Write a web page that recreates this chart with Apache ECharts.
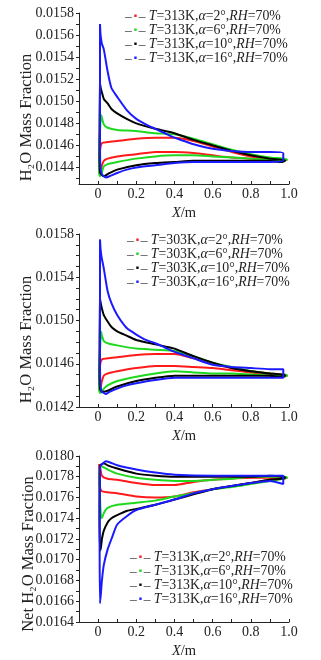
<!DOCTYPE html>
<html>
<head>
<meta charset="utf-8">
<style>
  html, body { margin: 0; padding: 0; background: #fff; }
  #main { width: 321px; height: 660px; }
</style>
<script src="https://cdn.jsdelivr.net/npm/echarts@6/dist/echarts.min.js"></script>
</head>
<body>
<div id="main"></div>
<script>
// legend texts
const names313 = ['T=313K,α=2°,RH=70%', 'T=313K,α=6°,RH=70%', 'T=313K,α=10°,RH=70%', 'T=313K,α=16°,RH=70%']
const names303 = ['T=303K,α=2°,RH=70%', 'T=303K,α=6°,RH=70%', 'T=303K,α=10°,RH=70%', 'T=303K,α=16°,RH=70%']
const colors = ['#ff1a1a', '#1fd91f', '#000000', '#1a1aff']

// tick labels
const xLabels = [0, 0.2, 0.4, 0.6, 0.8, 1.0]
const xTicks = [0, 0.1, 0.2, 0.3, 0.4, 0.5, 0.6, 0.7, 0.8, 0.9, 1.0]
const y1Labels = [0.0144, 0.0146, 0.0148, 0.0150, 0.0152, 0.0154, 0.0156, 0.0158]
const y2Labels = [0.0142, 0.0146, 0.0150, 0.0154, 0.0158]
const y3Labels = [0.0164, 0.0166, 0.0168, 0.0170, 0.0172, 0.0174, 0.0176, 0.0178, 0.0180]

// panel 1: T=313K, H2O mass fraction (closed loops, upper then lower surface)
const p1a2 = [[0.005, 0.01436], [0.01, 0.01455], [0.02, 0.01462], [0.05, 0.01463], [0.1, 0.01464], [0.2, 0.01466], [0.3, 0.01467], [0.4, 0.01467], [0.5, 0.01464], [0.6, 0.01459], [0.7, 0.01454], [0.8, 0.0145], [0.9, 0.01448], [0.97, 0.01447], [0.99, 0.01447],
  [0.97, 0.01446], [0.9, 0.01447], [0.8, 0.01448], [0.7, 0.01449], [0.6, 0.01451], [0.5, 0.01453], [0.4, 0.01454], [0.3, 0.01454], [0.2, 0.01452], [0.1, 0.0145], [0.05, 0.01448], [0.03, 0.01446], [0.02, 0.01442], [0.01, 0.01436], [0.005, 0.01436]]
const p1a6 = [[0.015, 0.01488], [0.02, 0.01485], [0.03, 0.01479], [0.05, 0.01476], [0.1, 0.01474], [0.2, 0.01473], [0.3, 0.01471], [0.4, 0.0147], [0.5, 0.01466], [0.6, 0.01461], [0.7, 0.01456], [0.8, 0.01452], [0.9, 0.01449], [0.97, 0.01448], [0.99, 0.01447],
  [0.97, 0.01446], [0.9, 0.01447], [0.8, 0.01448], [0.7, 0.01449], [0.6, 0.0145], [0.5, 0.01451], [0.4, 0.01451], [0.3, 0.0145], [0.2, 0.01448], [0.1, 0.01445], [0.05, 0.01443], [0.03, 0.01441], [0.02, 0.01436], [0.01, 0.01432], [0.005, 0.01435], [0.008, 0.01465], [0.012, 0.0148], [0.015, 0.01488]]
const p1a10 = [[0.01, 0.01516], [0.015, 0.01511], [0.02, 0.01508], [0.03, 0.01502], [0.05, 0.01498], [0.07, 0.01493], [0.1, 0.01489], [0.15, 0.01484], [0.2, 0.0148], [0.3, 0.01475], [0.35, 0.01473], [0.4, 0.01471], [0.5, 0.01465], [0.6, 0.0146], [0.7, 0.01455], [0.8, 0.01451], [0.9, 0.01448], [0.96, 0.01447], [0.98, 0.01446],
  [0.96, 0.01445], [0.9, 0.01446], [0.8, 0.01446], [0.6, 0.01446], [0.5, 0.01446], [0.4, 0.01445], [0.3, 0.01444], [0.2, 0.01442], [0.1, 0.01438], [0.05, 0.01434], [0.03, 0.01432], [0.02, 0.01433], [0.01, 0.01436], [0.007, 0.0146], [0.008, 0.0149], [0.01, 0.01516]]
const p1a16 = [[0.01, 0.0157], [0.013, 0.0156], [0.017, 0.01555], [0.02, 0.01552], [0.03, 0.01547], [0.05, 0.01527], [0.07, 0.01512], [0.1, 0.01504], [0.15, 0.01492], [0.2, 0.01484], [0.25, 0.01479], [0.3, 0.01475], [0.35, 0.01471], [0.4, 0.01467], [0.45, 0.01464], [0.5, 0.01461], [0.6, 0.01457], [0.7, 0.01455], [0.8, 0.01454], [0.9, 0.01454], [0.97, 0.01453],
  [0.97, 0.01446], [0.9, 0.01445], [0.7, 0.01445], [0.5, 0.01445], [0.4, 0.01444], [0.3, 0.01442], [0.2, 0.0144], [0.15, 0.01438], [0.1, 0.01435], [0.06, 0.01432], [0.04, 0.01431], [0.03, 0.01432], [0.02, 0.01434], [0.012, 0.0144], [0.01, 0.0147], [0.01, 0.0157]]

// panel 2: T=303K, H2O mass fraction
const p2a2 = [[0.005, 0.01436], [0.01, 0.01458], [0.02, 0.01464], [0.05, 0.01465], [0.1, 0.01466], [0.2, 0.01468], [0.3, 0.01469], [0.4, 0.01469], [0.5, 0.01465], [0.6, 0.0146], [0.7, 0.01456], [0.8, 0.01453], [0.9, 0.01451], [0.97, 0.0145], [0.99, 0.01449],
  [0.97, 0.01448], [0.9, 0.0145], [0.8, 0.01452], [0.7, 0.01454], [0.6, 0.01456], [0.5, 0.01457], [0.4, 0.01458], [0.3, 0.01458], [0.2, 0.01456], [0.1, 0.01453], [0.05, 0.01451], [0.03, 0.01449], [0.02, 0.01444], [0.01, 0.01436], [0.005, 0.01436]]
const p2a6 = [[0.015, 0.0149], [0.02, 0.01486], [0.03, 0.01481], [0.05, 0.01479], [0.1, 0.01477], [0.2, 0.01474], [0.3, 0.01473], [0.4, 0.01472], [0.5, 0.01467], [0.6, 0.01461], [0.7, 0.01457], [0.8, 0.01453], [0.9, 0.01451], [0.97, 0.0145], [0.99, 0.01449],
  [0.97, 0.01448], [0.9, 0.01449], [0.8, 0.0145], [0.7, 0.01451], [0.6, 0.01451], [0.5, 0.01452], [0.4, 0.01453], [0.3, 0.01451], [0.2, 0.01448], [0.1, 0.01444], [0.05, 0.0144], [0.03, 0.01437], [0.02, 0.01434], [0.01, 0.01433], [0.005, 0.01436], [0.008, 0.01465], [0.012, 0.0148], [0.015, 0.0149]]
const p2a10 = [[0.01, 0.0152], [0.015, 0.01515], [0.02, 0.01511], [0.03, 0.01505], [0.05, 0.01499], [0.07, 0.01494], [0.1, 0.0149], [0.15, 0.01486], [0.2, 0.01482], [0.3, 0.01478], [0.35, 0.01476], [0.4, 0.01474], [0.5, 0.01467], [0.6, 0.01461], [0.7, 0.01456], [0.8, 0.01453], [0.9, 0.01451], [0.96, 0.0145], [0.98, 0.01449],
  [0.96, 0.01448], [0.9, 0.01449], [0.8, 0.01449], [0.6, 0.01449], [0.5, 0.01449], [0.4, 0.01449], [0.3, 0.01447], [0.2, 0.01444], [0.1, 0.01439], [0.05, 0.01435], [0.03, 0.01434], [0.02, 0.01434], [0.01, 0.01437], [0.007, 0.0146], [0.008, 0.0149], [0.01, 0.0152]]
const p2a16 = [[0.01, 0.01575], [0.013, 0.01566], [0.017, 0.0156], [0.02, 0.01557], [0.03, 0.01548], [0.05, 0.01527], [0.07, 0.01516], [0.1, 0.01505], [0.15, 0.01493], [0.2, 0.01487], [0.25, 0.01482], [0.3, 0.01479], [0.35, 0.01475], [0.4, 0.01471], [0.45, 0.01468], [0.5, 0.01465], [0.6, 0.01459], [0.7, 0.01457], [0.8, 0.01456], [0.9, 0.01455], [0.97, 0.01455],
  [0.97, 0.01447], [0.9, 0.01447], [0.7, 0.01447], [0.5, 0.01447], [0.4, 0.01447], [0.3, 0.01445], [0.2, 0.01442], [0.15, 0.0144], [0.1, 0.01437], [0.06, 0.01434], [0.04, 0.01432], [0.03, 0.01433], [0.02, 0.01434], [0.012, 0.0144], [0.01, 0.0147], [0.01, 0.01575]]

// panel 3: T=313K, net H2O mass fraction
const p3a2 = [[0.005, 0.01792], [0.01, 0.0179], [0.02, 0.01781], [0.05, 0.01778], [0.1, 0.01777], [0.2, 0.01774], [0.3, 0.01772], [0.4, 0.01772], [0.5, 0.01775], [0.6, 0.01777], [0.8, 0.01779], [0.9, 0.01779], [0.99, 0.01779],
  [0.97, 0.01778], [0.9, 0.01777], [0.8, 0.01774], [0.7, 0.01771], [0.6, 0.01768], [0.5, 0.01765], [0.4, 0.01761], [0.3, 0.0176], [0.2, 0.01761], [0.1, 0.01764], [0.05, 0.01765], [0.02, 0.01766], [0.01, 0.0177], [0.005, 0.01792]]
const p3a6 = [[0.01, 0.0179], [0.02, 0.0179], [0.03, 0.01789], [0.05, 0.01787], [0.1, 0.01783], [0.2, 0.01779], [0.3, 0.01777], [0.4, 0.01776], [0.5, 0.01776], [0.6, 0.01777], [0.7, 0.01778], [0.8, 0.0178], [0.9, 0.0178], [0.98, 0.0178], [0.99, 0.01779],
  [0.97, 0.01778], [0.9, 0.01776], [0.8, 0.01773], [0.7, 0.0177], [0.6, 0.01768], [0.5, 0.01764], [0.4, 0.01761], [0.3, 0.01757], [0.2, 0.01755], [0.1, 0.01753], [0.05, 0.0175], [0.03, 0.01745], [0.02, 0.0174], [0.015, 0.01742], [0.01, 0.0176], [0.007, 0.01785], [0.01, 0.0179]]
const p3a10 = [[0.01, 0.01791], [0.03, 0.01793], [0.05, 0.01791], [0.1, 0.01788], [0.2, 0.01783], [0.3, 0.01781], [0.4, 0.0178], [0.6, 0.0178], [0.8, 0.0178], [0.9, 0.01781], [0.97, 0.0178], [0.98, 0.01779],
  [0.96, 0.01778], [0.9, 0.01777], [0.8, 0.01774], [0.7, 0.01771], [0.6, 0.01768], [0.5, 0.01763], [0.4, 0.01758], [0.3, 0.01753], [0.2, 0.01749], [0.15, 0.01747], [0.1, 0.01743], [0.07, 0.0174], [0.05, 0.01736], [0.03, 0.01728], [0.02, 0.0172], [0.015, 0.01712], [0.01, 0.01709], [0.007, 0.0175], [0.008, 0.0178], [0.01, 0.01791]]
const p3a16 = [[0.01, 0.0179], [0.02, 0.01792], [0.04, 0.01795], [0.06, 0.01794], [0.1, 0.01791], [0.2, 0.01787], [0.3, 0.01784], [0.4, 0.01782], [0.6, 0.01781], [0.8, 0.01781], [0.97, 0.01781],
  [0.97, 0.01773], [0.9, 0.01776], [0.8, 0.01774], [0.7, 0.01771], [0.6, 0.01768], [0.5, 0.01764], [0.4, 0.01758], [0.3, 0.01753], [0.2, 0.01748], [0.15, 0.01742], [0.1, 0.01734], [0.07, 0.0172], [0.05, 0.0171], [0.03, 0.01695], [0.02, 0.0168], [0.015, 0.01668], [0.01, 0.01658], [0.008, 0.0172], [0.01, 0.0179]]

const serif = 'Liberation Serif'
const txt = '#222'

function minorTicks (lo, hi) {
  let out = []
  for (let i = Math.round(lo * 1e4); i <= Math.round(hi * 1e4); i++) {
    out.push(i / 1e4)
  }
  return out
}

function xAxisOpt (idx) {
  return {
    type: 'value',
    gridIndex: idx,
    min: -0.1,
    max: 1.0,
    name: '{i|X}/m',
    nameLocation: 'middle',
    nameGap: 22,
    nameMoveOverlap: false,
    nameTextStyle: {
      fontFamily: serif,
      fontSize: 14.5,
      color: txt,
      rich: { i: { fontStyle: 'italic', fontFamily: serif, fontSize: 14.5, color: txt } }
    },
    axisLine: { show: true, onZero: false, lineStyle: { color: '#222', width: 1 } },
    axisTick: { show: true, inside: true, length: 3, customValues: xTicks, lineStyle: { color: '#222' } },
    axisLabel: {
      customValues: xLabels,
      margin: 3,
      fontFamily: serif,
      fontSize: 14,
      color: txt,
      formatter: v => (v === 0 ? '0' : v.toFixed(1))
    },
    splitLine: { show: false }
  }
}

function yAxisOpt (idx, min, max, labels, tickLo, name, gap, shift) {
  return {
    type: 'value',
    gridIndex: idx,
    min: min,
    max: max,
    name: name,
    nameLocation: 'middle',
    nameGap: gap,
    nameRotate: 90,
    nameMoveOverlap: false,
    nameTextStyle: { fontFamily: serif, fontSize: 16.5, color: txt, padding: [0, shift, 0, 0] },
    axisLine: { show: true, onZero: false, lineStyle: { color: '#222', width: 1 } },
    axisTick: { show: true, length: 3, customValues: minorTicks(tickLo, max), lineStyle: { color: '#222' } },
    axisLabel: {
      customValues: labels,
      margin: 5,
      fontFamily: serif,
      fontSize: 14,
      color: txt,
      formatter: v => v.toFixed(4)
    },
    splitLine: { show: false }
  }
}

function legendOpt (names, left, top) {
  let rich = {
    k: { color: '#222', fontFamily: serif, fontSize: 13.5 },
    i: { fontStyle: 'italic', fontFamily: serif, fontSize: 13.8, color: txt },
    n: { fontFamily: serif, fontSize: 13.8, color: txt }
  }
  colors.forEach((c, j) => {
    rich['c' + j] = { color: c, fontSize: 5, padding: [0, 2] }
  })
  return {
    orient: 'vertical',
    left: left,
    top: top,
    icon: 'none',
    itemWidth: 0,
    itemHeight: 13.6,
    itemGap: 0,
    padding: 0,
    data: names,
    formatter: name => {
      let j = names.indexOf(name)
      let m = name.match(/^T=(\d+K),α=(\d+°),RH=(\d+%)$/)
      return '{k|–}{c' + j + '|■}{k|–} {i|T}{n|=' + m[1] + ',}{i|α}{n|=' + m[2] + ',}{i|RH}{n|=' + m[3] + '}'
    },
    textStyle: { rich: rich, lineHeight: 13.6 }
  }
}

function seriesOpt (name, data, idx, j) {
  return {
    name: name,
    type: 'line',
    xAxisIndex: idx,
    yAxisIndex: idx,
    data: data,
    showSymbol: false,
    smooth: 0.2,
    color: colors[j],
    lineStyle: { color: colors[j], width: 2 },
    z: 2 + j
  }
}

let myChart = echarts.init(document.getElementById('main'), null, { renderer: 'canvas' })
myChart.setOption({
  animation: false,
  backgroundColor: '#fff',
  grid: [
    { left: 79, right: 32, top: 13, height: 171 },
    { left: 79, right: 32, top: 234, height: 173 },
    { left: 79, right: 32, top: 456, height: 174 }
  ],
  legend: [
    legendOpt(names313, 120, 9),
    legendOpt(names303, 122, 233),
    legendOpt(names313, 125, 550)
  ],
  xAxis: [xAxisOpt(0), xAxisOpt(1), xAxisOpt(2)],
  yAxis: [
    yAxisOpt(0, 0.01425, 0.0158, y1Labels, 0.0143, 'H₂O Mass Fraction', 44, 38),
    yAxisOpt(1, 0.0142, 0.0158, y2Labels, 0.0142, 'H₂O Mass Fraction', 44, 38),
    yAxisOpt(2, 0.0164, 0.0180, y3Labels, 0.0164, 'Net H₂O Mass Fraction', 42, 30)
  ],
  series: [
    seriesOpt(names313[0], p1a2, 0, 0),
    seriesOpt(names313[1], p1a6, 0, 1),
    seriesOpt(names313[2], p1a10, 0, 2),
    seriesOpt(names313[3], p1a16, 0, 3),
    seriesOpt(names303[0], p2a2, 1, 0),
    seriesOpt(names303[1], p2a6, 1, 1),
    seriesOpt(names303[2], p2a10, 1, 2),
    seriesOpt(names303[3], p2a16, 1, 3),
    seriesOpt(names313[0], p3a2, 2, 0),
    seriesOpt(names313[1], p3a6, 2, 1),
    seriesOpt(names313[2], p3a10, 2, 2),
    seriesOpt(names313[3], p3a16, 2, 3)
  ]
})
</script>
</body>
</html>
